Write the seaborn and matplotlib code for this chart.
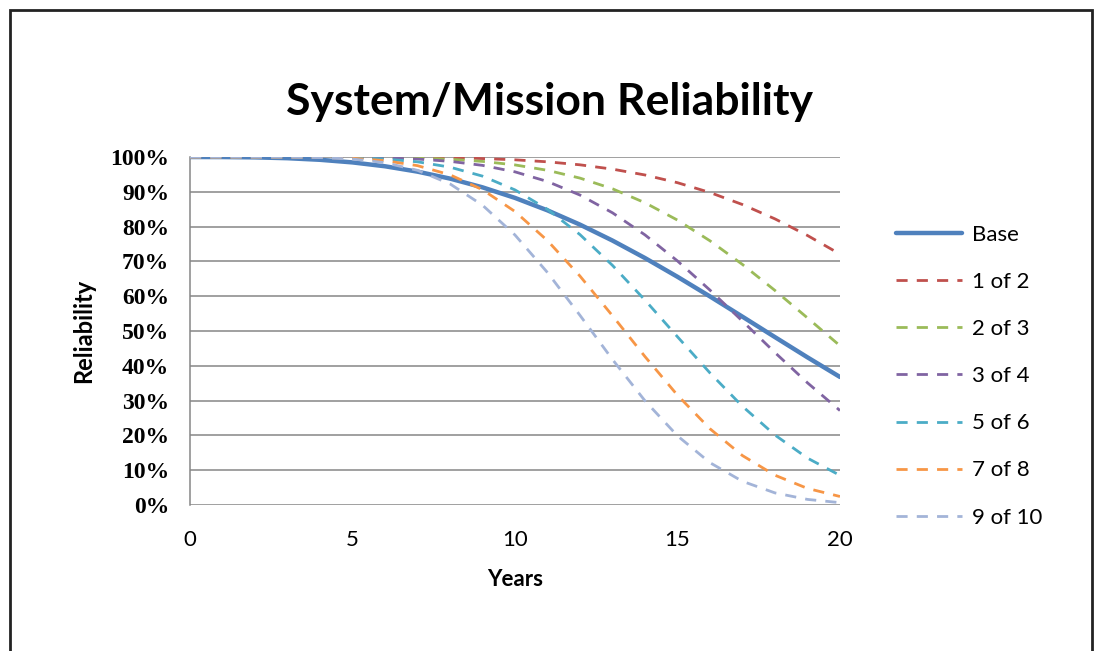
import matplotlib
matplotlib.use("Agg")
import matplotlib.pyplot as plt
from matplotlib.patches import Rectangle
from matplotlib.ticker import PercentFormatter
import seaborn as sns
import pandas as pd

# values, one per year
years = list(range(0, 21))
series_names = ["Base", "1 of 2", "2 of 3", "3 of 4", "5 of 6", "7 of 8", "9 of 10"]

base = [1.000, 0.9999, 0.9990, 0.9966, 0.9920, 0.9845, 0.9734, 0.9580, 0.9380, 0.9129, 0.8825,
        0.8467, 0.8057, 0.7599, 0.7097, 0.6558, 0.5993, 0.5411, 0.4824, 0.4243, 0.3679]
one_of_two = [1.000, 1.000, 1.000, 1.000, 1.000, 0.9999, 0.9996, 0.9990, 0.9978, 0.9956, 0.9920,
              0.9862, 0.9776, 0.9652, 0.9484, 0.9262, 0.8980, 0.8634, 0.8222, 0.7745, 0.7210]
two_of_three = [1.000, 1.000, 1.000, 1.000, 0.9999, 0.9996, 0.9988, 0.9970, 0.9936, 0.9874, 0.9773,
                0.9618, 0.9394, 0.9087, 0.8686, 0.8187, 0.7592, 0.6912, 0.6165, 0.5376, 0.4577]
three_of_four = [1.000, 1.000, 1.000, 1.000, 0.9998, 0.9992, 0.9976, 0.9942, 0.9876, 0.9760, 0.9574,
                 0.9296, 0.8907, 0.8397, 0.7762, 0.7013, 0.6175, 0.5283, 0.4380, 0.3511, 0.2714]
five_of_six = [1.000, 1.000, 1.000, 0.9999, 0.9995, 0.9980, 0.9943, 0.9862, 0.9709, 0.9451, 0.9055,
               0.8497, 0.7770, 0.6886, 0.5888, 0.4834, 0.3794, 0.2835, 0.2010, 0.1347, 0.0851]
seven_of_eight = [1.000, 1.000, 1.000, 0.9998, 0.9990, 0.9964, 0.9896, 0.9752, 0.9489, 0.9061, 0.8434,
                  0.7597, 0.6578, 0.5438, 0.4265, 0.3155, 0.2190, 0.1419, 0.0855, 0.0476, 0.0244]
nine_of_ten = [1.000, 1.000, 1.000, 0.9997, 0.9984, 0.9942, 0.9837, 0.9618, 0.9228, 0.8616, 0.7759,
               0.6680, 0.5450, 0.4181, 0.2994, 0.1987, 0.1215, 0.0680, 0.0347, 0.0160, 0.0067]

y_ticks = [0, 0.1, 0.2, 0.3, 0.4, 0.5, 0.6, 0.7, 0.8, 0.9, 1.0]
x_ticks = [0, 5, 10, 15, 20]

# long table for seaborn
all_series = [base, one_of_two, two_of_three, three_of_four, five_of_six, seven_of_eight, nine_of_ten]
rows = []
for name, vals in zip(series_names, all_series):
    for x, v in zip(years, vals):
        rows.append({"Years": x, "Reliability": v, "Config": name})
df = pd.DataFrame(rows)

colores = {"Base": "#4F81BD", "1 of 2": "#C0504D", "2 of 3": "#9BBB59", "3 of 4": "#8064A2",
           "5 of 6": "#4BACC6", "7 of 8": "#F79646", "9 of 10": "#A3B4D8"}
guiones = {n: (4, 3.3) for n in series_names}
guiones["Base"] = ""
grosores = {n: 2.0 for n in series_names}
grosores["Base"] = 3.2

sns.set_style("white")
plt.rcParams["font.family"] = ["Lato", "DejaVu Sans"]
plt.rcParams["text.color"] = "black"
plt.rcParams["axes.labelcolor"] = "black"
plt.rcParams["xtick.color"] = "black"
plt.rcParams["ytick.color"] = "black"

fig = plt.figure(figsize=(10.99, 6.51), dpi=100)
ax = fig.add_axes([0.1729, 0.2243, 0.5914, 0.5345])

sns.lineplot(data=df, x="Years", y="Reliability", hue="Config", style="Config", size="Config",
             hue_order=series_names, style_order=series_names, size_order=series_names,
             palette=colores, dashes=guiones, sizes=grosores, errorbar=None, ax=ax, zorder=3)

ax.set_xlim(0, 20)
ax.set_ylim(0, 1.0)
ax.set_xticks(x_ticks)
ax.set_yticks(y_ticks)
ax.yaxis.set_major_formatter(PercentFormatter(1.0, decimals=0))
ax.grid(axis="y", color="#868686", lw=1.1)
ax.set_axisbelow(True)
for s in ["top", "right", "bottom"]:
    ax.spines[s].set_visible(False)
ax.spines["left"].set_color("#868686")
ax.spines["left"].set_linewidth(1.1)
ax.tick_params(axis="y", length=0, pad=15, labelsize=17)
ax.tick_params(axis="x", length=0, pad=18, labelsize=16)
for t in ax.get_yticklabels():
    t.set_family(["Liberation Serif", "DejaVu Serif"])
    t.set_weight("bold")

ax.set_xlabel("Years", fontsize=16, fontweight="bold", labelpad=14)
ax.set_ylabel("Reliability", fontsize=17, fontweight="bold", labelpad=11)
fig.text(0.5, 0.843, "System/Mission Reliability", ha="center", va="center",
         fontsize=32, fontweight="bold")

leg = ax.get_legend()
handles = leg.legend_handles
labels = [t.get_text() for t in leg.get_texts()]
ax.legend(handles, labels, loc="center left", bbox_to_anchor=(1.055, 0.37), frameon=False,
          fontsize=16, handlelength=3.0, labelspacing=1.22, handletextpad=0.45)

# borde del grafico
fig.patches.append(Rectangle((0.009, -0.01), 0.985, 0.995, transform=fig.transFigure,
                             fill=False, edgecolor="#222222", lw=2))

plt.savefig("out.png", dpi=100)
